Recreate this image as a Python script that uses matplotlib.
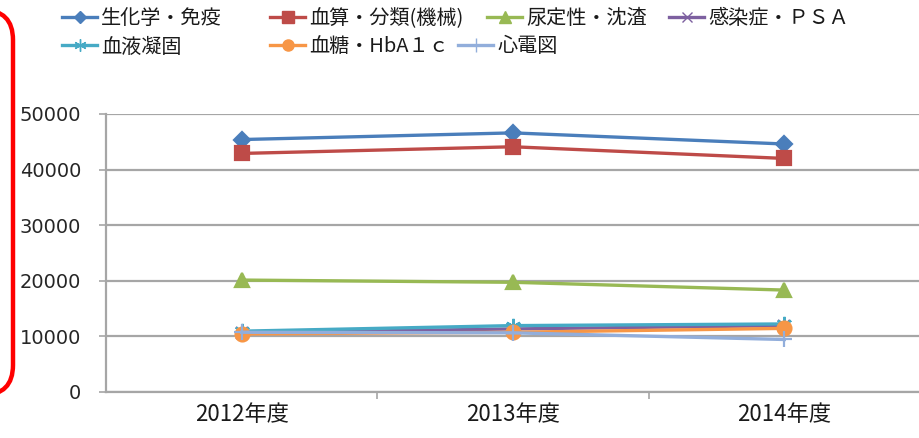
import matplotlib
matplotlib.use("Agg")
import matplotlib.pyplot as plt
from matplotlib.lines import Line2D
from matplotlib.patches import FancyBboxPatch
from matplotlib.transforms import IdentityTransform

plt.rcParams['font.family'] = ['Noto Sans CJK JP', 'DejaVu Sans']

# Test counts by fiscal year
years = ["2012年度", "2013年度", "2014年度"]
series_names = ["生化学・免疫", "血算・分類(機械)", "尿定性・沈渣", "感染症・ＰＳＡ",
                "血液凝固", "血糖・HbA１ｃ", "心電図"]
biochem_immuno = [45400, 46600, 44600]
blood_count = [42900, 44100, 42000]
urinalysis = [20100, 19700, 18300]
infection_psa = [10600, 11300, 11900]
coagulation = [10900, 11900, 12200]
glucose_hba1c = [10400, 10700, 11400]
ecg = [10700, 10600, 9400]
values = [biochem_immuno, blood_count, urinalysis, infection_psa,
          coagulation, glucose_hba1c, ecg]
y_ticks = [0, 10000, 20000, 30000, 40000, 50000]

colors = ["#4A7EBB", "#BE4B48", "#98B954", "#7D60A0", "#46AAC5", "#F79646", "#92AEDB"]
markers = ["D", "s", "^", "x", (6, 2, 0), "o", "+"]
msizes = [8, 10, 10, 9, 11, 10, 12]

W, H = 920, 438
fig = plt.figure(figsize=(W / 100, H / 100), dpi=100)
ax = fig.add_axes([106 / W, 1 - 391.7 / H, 1 - 106 / W, (391.7 - 114) / H])

x = list(range(len(years)))
lines = []
for vals, c, m, ms in zip(values, colors, markers, msizes):
    ln, = ax.plot(x, vals, color=c, lw=2.4, marker=m, markersize=ms,
                  markerfacecolor=c, markeredgecolor=c, markeredgewidth=1.6,
                  solid_joinstyle="round", zorder=3)
    lines.append(ln)

ax.set_xlim(-0.5, len(years) - 0.5)
ax.set_ylim(0, 50000)
ax.set_yticks(y_ticks)
ax.set_yticklabels([str(v) for v in y_ticks], family="DejaVu Sans", fontsize=14,
                   color="#262626")
ax.set_xticks(x)
ax.set_xticklabels(years, fontsize=16, color="#1a1a1a")
ax.set_xticks([0.5, 1.5], minor=True)

grid_c = "#A6A6A6"
ax.grid(axis="y", color=grid_c, lw=1.6, zorder=0)
for s in ["top", "right"]:
    ax.spines[s].set_visible(False)
for s in ["left", "bottom"]:
    ax.spines[s].set_color(grid_c)
    ax.spines[s].set_linewidth(1.6)
ax.tick_params(axis="y", length=5, width=1.2, color=grid_c, pad=13)
ax.tick_params(axis="x", which="major", length=0, pad=8)
ax.tick_params(axis="x", which="minor", length=5, width=1.2, color=grid_c)

# Legend entries laid out in two rows
legend_pos = [(62, 19), (270, 19), (487, 19), (669, 19),
              (62, 47), (270, 47), (458, 47)]
for ln, name, (px, py) in zip(lines, series_names, legend_pos):
    h = Line2D([], [], color=ln.get_color(), lw=2.4, marker=ln.get_marker(),
               markersize=ln.get_markersize() * 0.8,
               markerfacecolor=ln.get_color(), markeredgecolor=ln.get_color())
    fig.legend(handles=[h], labels=[name], loc="center left",
               bbox_to_anchor=(px / W, 1 - py / H), frameon=False,
               fontsize=14.5, borderpad=0, borderaxespad=0,
               handlelength=1.75, handletextpad=0.2, labelcolor="#1a1a1a")

# Red highlight frame around the value axis
box = FancyBboxPatch((-80, H - 395), 93, 385,
                     boxstyle="round,pad=0,rounding_size=30",
                     transform=IdentityTransform(), fill=False,
                     edgecolor="#FF0000", lw=3.2)
fig.patches.append(box)

fig.savefig("out.png", dpi=100)
